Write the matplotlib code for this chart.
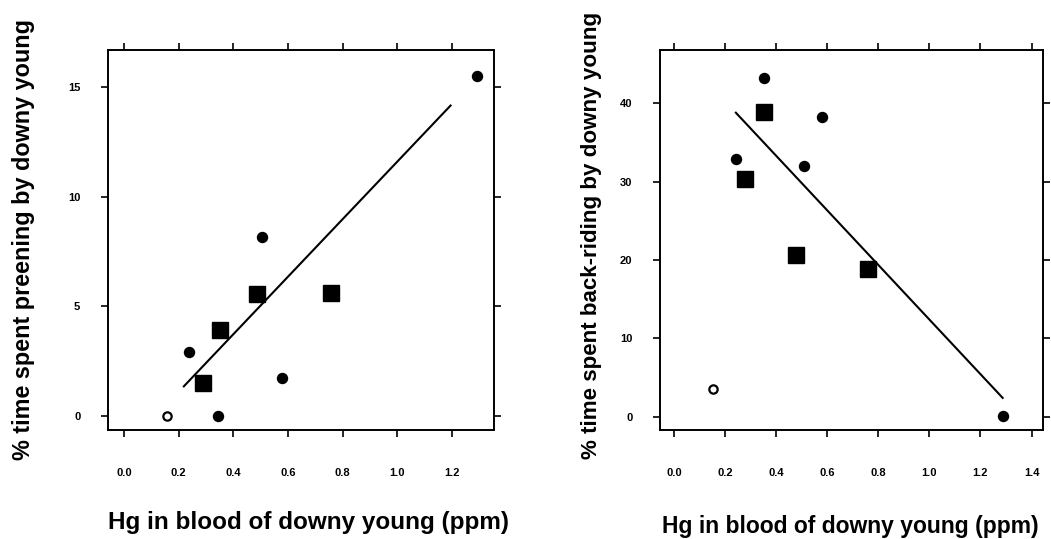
import matplotlib
matplotlib.use("Agg")
import matplotlib.pyplot as plt

# Left panel: preening vs blood Hg
pre_open_x = [0.156]
pre_open_y = [0.0]
pre_circ_x = [0.238, 0.343, 0.506, 0.578, 1.289]
pre_circ_y = [2.9, 0.0, 8.15, 1.75, 15.5]
pre_sq_x = [0.29, 0.351, 0.485, 0.756]
pre_sq_y = [1.5, 3.9, 5.55, 5.6]
pre_fit_x = [0.219, 1.194]
pre_fit_y = [1.35, 14.15]

# Right panel: back-riding vs blood Hg
back_open_x = [0.152]
back_open_y = [3.5]
back_circ_x = [0.242, 0.352, 0.509, 0.581, 1.289]
back_circ_y = [32.9, 43.2, 32.0, 38.3, 0.1]
back_sq_x = [0.278, 0.354, 0.478, 0.758]
back_sq_y = [30.3, 38.9, 20.6, 18.8]
back_fit_x = [0.242, 1.287]
back_fit_y = [38.8, 2.4]

xlabel = "Hg in blood of downy young (ppm)"
ylabel_left = "% time spent preening by downy young"
ylabel_right = "% time spent back-riding by downy young"

FONT = "Liberation Sans"

fig = plt.figure(figsize=(10.51, 5.39), dpi=100)
ax1 = fig.add_axes([0.1028, 0.2022, 0.3673, 0.705])
ax2 = fig.add_axes([0.628, 0.2022, 0.3644, 0.705])


def style_panel(ax, xticks, yticks, xlim, ylim):
    ax.set_xlim(*xlim)
    ax.set_ylim(*ylim)
    ax.set_xticks(xticks)
    ax.set_xticklabels([f"{t:.1f}" for t in xticks])
    ax.set_yticks(yticks)
    ax.set_yticklabels([str(t) for t in yticks])
    ax.tick_params(direction="out", length=5, width=1.2, top=True, right=True,
                   labelsize=8)
    ax.tick_params(axis="x", pad=22)
    ax.tick_params(axis="y", pad=15)
    for lab in ax.get_xticklabels() + ax.get_yticklabels():
        lab.set_fontweight("bold")
        lab.set_family(FONT)
    for sp in ax.spines.values():
        sp.set_linewidth(1.4)


def draw_points(ax, ox, oy, cx, cy, sx, sy, fx, fy):
    ax.plot(fx, fy, color="black", lw=1.5)
    ax.plot(cx, cy, "o", color="black", ms=7.2, ls="none")
    ax.plot(sx, sy, "s", color="black", ms=12, ls="none")
    ax.plot(ox, oy, "o", mfc="white", mec="black", mew=1.6, ms=6, ls="none")


draw_points(ax1, pre_open_x, pre_open_y, pre_circ_x, pre_circ_y,
            pre_sq_x, pre_sq_y, pre_fit_x, pre_fit_y)
style_panel(ax1, [0.0, 0.2, 0.4, 0.6, 0.8, 1.0, 1.2], [0, 5, 10, 15],
            (-0.058, 1.353), (-0.64, 16.68))

draw_points(ax2, back_open_x, back_open_y, back_circ_x, back_circ_y,
            back_sq_x, back_sq_y, back_fit_x, back_fit_y)
style_panel(ax2, [0.0, 0.2, 0.4, 0.6, 0.8, 1.0, 1.2, 1.4], [0, 10, 20, 30, 40],
            (-0.055, 1.445), (-1.7, 46.8))

fig.text(308 / 1051, 1 - 522 / 539, xlabel, ha="center", va="center",
         fontsize=17.5, fontweight="bold", family=FONT)
fig.text(850 / 1051, 1 - 527 / 539, xlabel, ha="center", va="center",
         fontsize=16.5, fontweight="bold", family=FONT)
fig.text(24 / 1051, 1 - 240 / 539, ylabel_left, rotation=90, ha="center", va="center",
         fontsize=16.8, fontweight="bold", family=FONT)
fig.text(592 / 1051, 1 - 235 / 539, ylabel_right, rotation=90, ha="center", va="center",
         fontsize=16.1, fontweight="bold", family=FONT)

fig.savefig("out.png", dpi=100)
